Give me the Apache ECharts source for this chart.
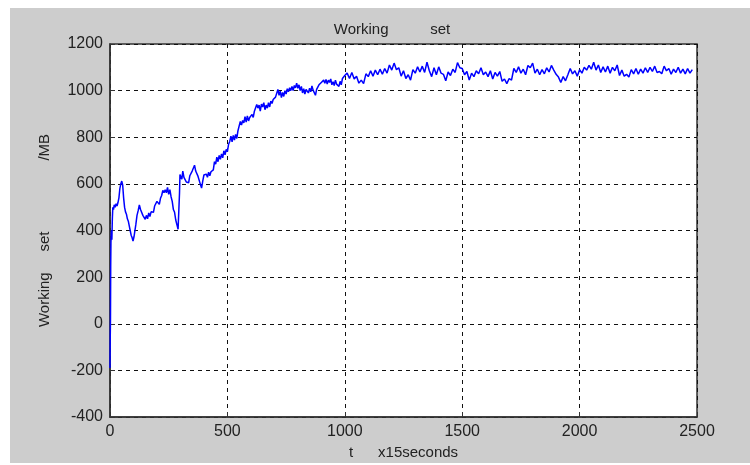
<!DOCTYPE html>
<html>
<head>
<meta charset="utf-8">
<script src="https://cdn.jsdelivr.net/npm/echarts@6/dist/echarts.min.js"></script>
<style>
  body { margin: 0; background: #fff; }
  #wrap { position: relative; width: 750px; height: 465px; }
  #panel { position: absolute; left: 10px; top: 8px; width: 740px; height: 455px; background: #cdcdcd; }
  #main { position: absolute; left: 0; top: 0; width: 750px; height: 465px; }
</style>
</head>
<body>
<div id="wrap">
  <div id="panel"></div>
  <div id="main"></div>
</div>
<script>
// working set over time (t in units of 15 s)
const rampUp = [
  [0,-190],[1,-60],[2,20],[3,250],[4,350],[6,400],[8,360],[10,450],[12,500],[15,490],
  [18,510],[22,500],[26,515],[30,505],[34,520],[38,540],[42,580],[46,600],[50,612],[54,595],
  [58,540],[62,500],[66,480],[70,470],[74,450],[78,440],[82,420],[86,400],[90,380],[94,370],
  [98,355],[102,372],[106,398],[110,425],[115,465],[120,485],[125,510],[130,490],[135,485],[140,465],
  [145,472],[150,448],[155,465],[160,450],[165,475],[170,460],[175,480],[180,488],[185,478],[190,505],
  [195,500],[200,525],[205,530],[210,512],[215,538],[220,550],[225,572],[230,562],[235,575],[240,562],
  [245,585],[250,555],[255,575],[260,545],[265,525],[270,490],[275,478],[280,445],[285,445],[290,405],
  [293,400],[296,560],[298,640],[302,648],[306,620],[310,655],[315,628],[320,625],[325,608],[330,612],
  [335,605],[340,635],[345,628],[350,655],[355,660],[360,680],[365,655],[370,650],[375,632],[380,625],
  [385,598],[390,582],[395,612],[400,638],[405,630],[410,642],[415,628],[420,650],[425,635],[430,652],
  [435,645],[440,660],[445,695],[450,685],[455,715],[460,695],[465,722],[470,705],[475,728],[480,712],
  [485,742],[490,725],[495,748],[500,738],[505,770],[510,782],[515,805],[520,780],[525,808],[530,788],
  [535,812],[540,795],[545,828],[550,835],[555,868],[560,852],[565,872],[570,862],[575,888],[580,865],
  [585,892],[590,870],[595,885],[600,878],[605,898],[610,885],[615,912],[620,915],[625,940],[630,925],
  [635,938],[640,912],[645,942],[650,930],[655,948],[660,918],[665,938],[670,925],[675,948],[680,930],
  [685,955],[690,945],[695,962],[700,955],[705,972],[710,965],[715,1005],[720,980],[725,998],[730,970],
  [735,992],[740,975],[745,1000],[750,985],[755,1008],[760,995],[765,1012],[770,1000],[775,1018],[780,1000],
  [785,1022],[790,1012],[795,1032],[800,1010],[805,1025],[810,1000],[815,1018],[820,990],[825,1008],[830,985],
  [835,1005],[840,1012],[845,990],[850,1010],[855,995],[860,1020],[865,1002],[870,1000],[875,980],[880,1005],
  [885,998],[890,1025],[895,1022],[900,1035],[905,1030],[910,1045],[915,1032],[920,1048],[925,1028],[930,1045],
  [935,1035],[940,1050],[945,1025],[950,1038],[955,1022],[960,1045],[965,1028],[970,1030],[975,1018],[980,1040],
  [985,1025],[990,1052],[995,1050],[1000,1065],[1005,1058]
];
const plateau = [
  [1010,1075],[1020,1052],[1030,1078],[1040,1050],[1050,1062],[1060,1032],[1070,1045],[1080,1030],[1090,1072],[1100,1060],
  [1110,1085],[1120,1062],[1130,1088],[1140,1068],[1150,1092],[1160,1070],[1170,1095],[1180,1075],[1190,1110],[1200,1088],
  [1210,1118],[1220,1090],[1230,1098],[1240,1062],[1250,1085],[1260,1052],[1270,1068],[1280,1045],[1290,1090],[1300,1075],
  [1310,1102],[1320,1080],[1330,1105],[1340,1078],[1350,1122],[1360,1085],[1370,1060],[1380,1098],[1390,1068],[1400,1102],
  [1410,1075],[1420,1070],[1430,1042],[1440,1080],[1450,1065],[1460,1092],[1470,1078],[1480,1120],[1490,1098],[1500,1095],
  [1510,1068],[1520,1082],[1530,1045],[1540,1075],[1550,1060],[1560,1085],[1570,1072],[1580,1098],[1590,1068],[1600,1080],
  [1610,1060],[1620,1085],[1630,1050],[1640,1078],[1650,1062],[1660,1082],[1670,1040],[1680,1050],[1690,1030],[1700,1052],
  [1710,1045],[1720,1095],[1730,1078],[1740,1102],[1750,1075],[1760,1092],[1770,1068],[1780,1108],[1790,1098],[1800,1118],
  [1810,1075],[1820,1092],[1830,1068],[1840,1090],[1850,1072],[1860,1098],[1870,1080],[1880,1108],[1890,1088],[1900,1070],
  [1910,1058],[1920,1035],[1930,1060],[1940,1042],[1950,1068],[1960,1095],[1970,1072],[1980,1085],[1990,1062],[2000,1090],
  [2010,1075],[2020,1100],[2030,1088],[2040,1108],[2050,1092],[2060,1122],[2070,1088],[2080,1110],[2090,1078],[2100,1102],
  [2110,1080],[2120,1105],[2130,1075],[2140,1100],[2150,1085],[2160,1110],[2170,1065],[2180,1088],[2190,1062],[2200,1070],
  [2210,1058],[2220,1090],[2230,1072],[2240,1095],[2250,1070],[2260,1092],[2270,1075],[2280,1098],[2290,1078],[2300,1100],
  [2310,1082],[2320,1105],[2330,1078],[2340,1082],[2350,1072],[2360,1105],[2370,1085],[2380,1095],[2390,1070],[2400,1092],
  [2410,1078],[2420,1100],[2430,1075],[2440,1092],[2450,1072],[2460,1095],[2470,1075],[2480,1090]
];
const xMin = 0, xMax = 2500, xStep = 500;
const yMin = -400, yMax = 1200, yStep = 200;

const font = 'Liberation Sans, Arial, sans-serif';
const gridLine = { show: true, lineStyle: { color: '#111', type: [4, 4], width: 1 } };
const plain = v => String(v);

let chart = echarts.init(document.getElementById('main'));
chart.setOption({
  backgroundColor: 'transparent',
  animation: false,
  title: {
    text: 'Working          set',
    left: 387,
    top: 17,
    textAlign: 'center',
    textStyle: { fontFamily: font, fontSize: 15, fontWeight: 'normal', color: '#222' }
  },
  grid: {
    left: 110, right: 53, top: 44, bottom: 43,
    show: true, backgroundColor: '#fff', borderColor: '#333', borderWidth: 1.5
  },
  xAxis: {
    type: 'value', min: xMin, max: xMax, interval: xStep,
    name: 't      x15seconds', nameLocation: 'middle', nameGap: 28,
    nameTextStyle: { fontFamily: font, fontSize: 15, color: '#222' },
    axisLine: { show: true, onZero: false, lineStyle: { color: '#333', width: 1.5 } },
    axisTick: { show: true, inside: true, length: 5, lineStyle: { color: '#333' } },
    axisLabel: { fontFamily: font, fontSize: 16, color: '#222', margin: 7, formatter: plain },
    splitLine: gridLine
  },
  yAxis: {
    type: 'value', min: yMin, max: yMax, interval: yStep,
    name: 'Working     set                 /MB', nameLocation: 'middle', nameGap: 58, nameRotate: 90,
    nameTextStyle: { fontFamily: font, fontSize: 15, color: '#222' },
    axisLine: { show: true, lineStyle: { color: '#333', width: 1.5 } },
    axisTick: { show: true, inside: true, length: 5, lineStyle: { color: '#333' } },
    axisLabel: { fontFamily: font, fontSize: 16, color: '#222', margin: 7, formatter: plain },
    splitLine: gridLine
  },
  series: [{
    type: 'line',
    data: rampUp.concat(plateau),
    showSymbol: false,
    lineStyle: { color: '#0000ff', width: 1.5 }
  }]
});
</script>
</body>
</html>
